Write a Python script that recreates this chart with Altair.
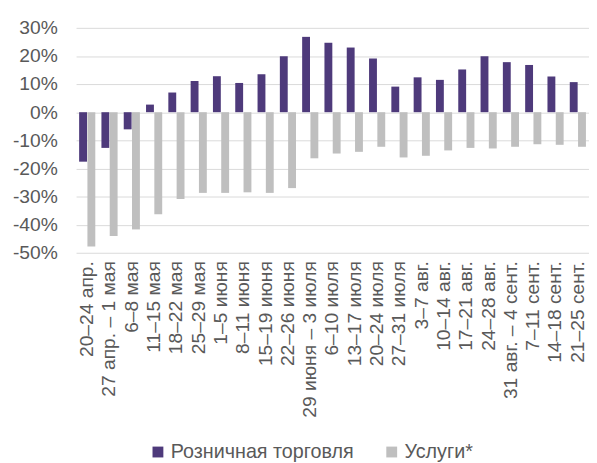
import altair as alt
import pandas as pd

categories = [
    "20–24 апр.", "27 апр. – 1 мая", "6–8 мая", "11–15 мая", "18–22 мая",
    "25–29 мая", "1–5 июня", "8–11 июня", "15–19 июня", "22–26 июня",
    "29 июня – 3 июля", "6–10 июля", "13–17 июля", "20–24 июля", "27–31 июля",
    "3–7 авг.", "10–14 авг.", "17–21 авг.", "24–28 авг.", "31 авг. – 4 сент.",
    "7–11 сент.", "14–18 сент.", "21–25 сент.",
]
retail = [-17.6, -12.7, -6.1, 2.7, 7.0, 11.1, 12.8, 10.4, 13.5, 19.9,
          26.8, 24.7, 23.0, 19.1, 9.1, 12.4, 11.5, 15.2, 19.9, 17.8,
          16.8, 12.7, 10.7]
services = [-47.8, -44.0, -41.7, -36.3, -30.9, -28.7, -28.7, -28.5, -28.7, -27.0,
            -16.4, -14.7, -14.1, -12.3, -16.1, -15.5, -13.6, -12.7, -12.9, -12.3,
            -11.4, -11.6, -12.3]
series_names = ["Розничная торговля", "Услуги*"]
series_colors = ["#4E3A7B", "#BFBFBF"]
y_ticks = [30, 20, 10, 0, -10, -20, -30, -40, -50]

rows = []
for i, c in enumerate(categories):
    rows.append({"cat": c, "series": series_names[0], "value": retail[i]})
    rows.append({"cat": c, "series": series_names[1], "value": services[i]})
df = pd.DataFrame(rows)

FONT = "Liberation Sans"
TXT = "#595959"

chart = alt.Chart(df).mark_bar().encode(
    x=alt.X("cat:N", sort=categories,
            scale=alt.Scale(paddingInner=0.275, paddingOuter=0.1375),
            axis=alt.Axis(title=None, labelAngle=-90, labelAlign="right",
                          labelBaseline="middle", labelPadding=8,
                          labelFontSize=19.5, labelFont=FONT, labelColor=TXT,
                          domain=False, ticks=False, labelOverlap=False)),
    xOffset=alt.XOffset("series:N", sort=series_names,
                        scale=alt.Scale(paddingInner=0.05)),
    y=alt.Y("value:Q", scale=alt.Scale(domain=[-50, 30], nice=False),
            axis=alt.Axis(title=None, values=y_ticks, labelExpr="datum.value + '%'",
                          labelFontSize=19.5, labelFont=FONT, labelColor=TXT,
                          labelPadding=19, ticks=False, domain=False,
                          grid=True, gridColor="#D9D9D9", gridWidth=1)),
    color=alt.Color("series:N", sort=series_names,
                    scale=alt.Scale(domain=series_names, range=series_colors),
                    legend=alt.Legend(title=None, orient="none", direction="horizontal",
                                      legendX=73, legendY=420,
                                      symbolType="square", symbolSize=121,
                                      symbolStrokeWidth=0, labelOffset=3,
                                      columnPadding=28, labelFontSize=20,
                                      labelLimit=400,
                                      labelFont=FONT, labelColor=TXT)),
).properties(
    width=520, height=228,
    autosize=alt.AutoSizeParams(type="none"),
    padding={"left": 69, "top": 17, "right": 0, "bottom": 210},
).configure_view(stroke=None)

chart.save("out.html", embed_options={"renderer": "svg", "actions": False})
